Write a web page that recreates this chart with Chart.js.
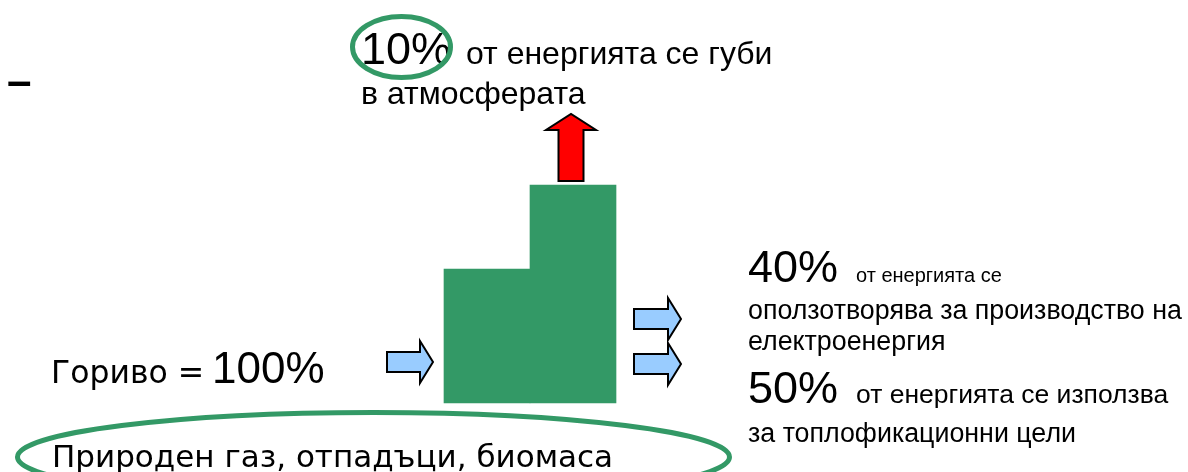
<!DOCTYPE html>
<html>
<head>
<meta charset="utf-8">
<script src="https://cdn.jsdelivr.net/npm/chart.js@4"></script>
<style>
  html, body { margin: 0; padding: 0; background: #fff; }
  #wrap { width: 1188px; height: 472px; }
</style>
</head>
<body>
<div id="wrap"><canvas id="myCanvas" width="1188" height="472"></canvas></div>
<script>
// building blocks of the plant, in slide units (x right, y down)
const blockLabels = ['котел', 'комин'];
const blockCenters = [487, 573];
const blockTops = [269, 185];
const blockBottom = 403;

// energy shares
const fuelShare = '100%';
const lossShare = '10%';
const powerShare = '40%';
const heatShare = '50%';

// texts
const fuelLabel = 'Гориво = ';
const fuelKinds = 'Природен газ, отпадъци, биомаса';
const lossText = ['от енергията се губи', 'в атмосферата'];
const powerText = ['от енергията се', 'оползотворява за производство на', 'електроенергия'];
const heatText = ['от енергията се използва', 'за топлофикационни цели'];

// arrows: [tailX, tailY, tipX, tipY]
const inArrows = [[387, 362, 433, 362]];
const outArrows = [[634, 319, 681, 319], [634, 364, 681, 364]];
const lossArrows = [[571, 181, 571, 114]];

const GREEN = '#339966';
const SANS = '"Liberation Sans", Arial, sans-serif';
const WIDE = '"DejaVu Sans", Verdana, sans-serif';

function arrow(ctx, x0, y0, x1, y1, shaft, head, headLen, fill) {
    const len = Math.hypot(x1 - x0, y1 - y0);
    const ux = (x1 - x0) / len, uy = (y1 - y0) / len;
    const nx = -uy, ny = ux;
    const bx = x1 - ux * headLen, by = y1 - uy * headLen;
    ctx.beginPath();
    ctx.moveTo(x0 + nx * shaft / 2, y0 + ny * shaft / 2);
    ctx.lineTo(bx + nx * shaft / 2, by + ny * shaft / 2);
    ctx.lineTo(bx + nx * head / 2, by + ny * head / 2);
    ctx.lineTo(x1, y1);
    ctx.lineTo(bx - nx * head / 2, by - ny * head / 2);
    ctx.lineTo(bx - nx * shaft / 2, by - ny * shaft / 2);
    ctx.lineTo(x0 - nx * shaft / 2, y0 - ny * shaft / 2);
    ctx.closePath();
    ctx.fillStyle = fill;
    ctx.fill();
    ctx.lineWidth = 2;
    ctx.strokeStyle = '#000';
    ctx.lineJoin = 'miter';
    ctx.stroke();
}

const diagramPlugin = {
    id: 'diagram',
    afterDatasetsDraw(chart) {
        const ctx = chart.ctx;
        const xs = chart.scales.x, ys = chart.scales.y;
        const px = v => xs.getPixelForValue(v);
        const py = v => ys.getPixelForValue(v);
        ctx.save();

        // arrows
        inArrows.concat(outArrows).forEach(a =>
            arrow(ctx, px(a[0]), py(a[1]), px(a[2]), py(a[3]), 20, 42, 13, '#99ccff'));
        lossArrows.forEach(a =>
            arrow(ctx, px(a[0]), py(a[1]), px(a[2]), py(a[3]), 25, 50, 16, '#ff0000'));

        // texts
        ctx.fillStyle = '#000';
        ctx.textBaseline = 'alphabetic';
        ctx.textAlign = 'left';
        const text = (s, x, y, font) => { ctx.font = font; ctx.fillText(s, px(x), py(y)); };

        text('\u2013', 7, 96, 'bold 44px ' + SANS);

        text(lossShare, 361, 64, '45px ' + SANS);
        text(lossText[0], 466, 64, '32px ' + SANS);
        text(lossText[1], 361, 104, '32px ' + SANS);

        text(powerShare, 748, 282, '45px ' + SANS);
        text(powerText[0], 856, 282, '20px ' + SANS);
        text(powerText[1], 748, 319, '26.8px ' + SANS);
        text(powerText[2], 748, 350, '26.8px ' + SANS);

        text(heatShare, 748, 403, '45px ' + SANS);
        text(heatText[0], 856, 403, '26.5px ' + SANS);
        text(heatText[1], 748, 442, '26.8px ' + SANS);

        text(fuelLabel, 51, 383, '31.5px ' + WIDE);
        text(fuelShare, 212, 383, '44px ' + SANS);

        text(fuelKinds, 52, 467, '31px ' + WIDE);

        // green rings
        ctx.strokeStyle = GREEN;
        ctx.lineWidth = 5;
        ctx.beginPath();
        ctx.ellipse(px(401.5), py(47), 49, 30.5, 0, 0, Math.PI * 2);
        ctx.stroke();
        ctx.beginPath();
        ctx.ellipse(px(373.5), py(457), 356, 44.5, 0, 0, Math.PI * 2);
        ctx.stroke();

        ctx.restore();
    }
};

const ctx = document.getElementById('myCanvas').getContext('2d');
new Chart(ctx, {
    type: 'bar',
    data: {
        labels: blockLabels,
        datasets: [{
            label: 'ТЕЦ',
            data: blockCenters.map((c, i) => ({x: c, y: [blockTops[i], blockBottom]})),
            backgroundColor: GREEN,
            borderWidth: 0,
            barThickness: 'flex',
            categoryPercentage: 1,
            barPercentage: 1
        }]
    },
    options: {
        responsive: false,
        animation: false,
        events: [],
        layout: {padding: 0},
        plugins: {legend: {display: false}, tooltip: {enabled: false}},
        scales: {
            x: {type: 'linear', min: 0, max: 1188, offset: false, display: false},
            y: {min: 0, max: 472, reverse: true, display: false}
        }
    },
    plugins: [diagramPlugin]
});
</script>
</body>
</html>
